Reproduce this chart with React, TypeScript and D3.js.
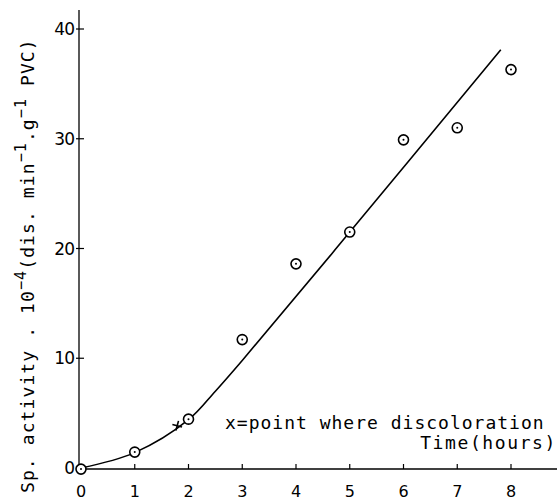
import React from "react";
import * as d3 from "d3";

const times = [0, 1, 2, 3, 4, 5, 6, 7, 8];
const activity = [-0.1, 1.45, 4.45, 11.7, 18.6, 21.5, 29.9, 31.0, 36.3];
const fitX = [0, 1, 2, 2.5, 3, 4.73, 7.81];
const fitY = [0, 1.4, 4.4, 7.0, 9.8, 19.9, 38.1];
const discolor = { t: 1.79, v: 3.85 };
const xTicks = [0, 1, 2, 3, 4, 5, 6, 7, 8];
const yTicks = [0, 10, 20, 30, 40];

const W = 559;
const H = 501;

export default function App() {
  const x = d3.scaleLinear().domain([0, 8]).range([81, 511]);
  const y = d3.scaleLinear().domain([0, 40]).range([468, 29]);
  const line = d3
    .line<number>()
    .x((_, i) => x(fitX[i]))
    .y((d) => y(d))
    .curve(d3.curveCatmullRom.alpha(0.5));
  const axisX = 79;
  const axisY = 469;
  const mono = "'DejaVu Sans Mono', monospace";
  const sans = "'DejaVu Sans', sans-serif";
  return (
    <svg
      width={W}
      height={H}
      style={{ position: "absolute", left: 0, top: 0, background: "#fff" }}
    >
      <rect width={W} height={H} fill="#fff" />
      {/* axes */}
      <line x1={axisX} y1={10} x2={axisX} y2={axisY} stroke="#000" strokeWidth={1.3} />
      <line x1={axisX} y1={axisY} x2={557} y2={axisY} stroke="#000" strokeWidth={1.3} />
      {yTicks.map((t) => (
        <g key={"y" + t}>
          <line x1={axisX - 3} x2={axisX + 5} y1={y(t)} y2={y(t)} stroke="#000" strokeWidth={1.2} />
          <text
            x={74}
            y={y(t)}
            dy="0.36em"
            textAnchor="end"
            fontFamily={sans}
            fontSize={17}
            letterSpacing={-1}
            fill="#000"
          >
            {t}
          </text>
        </g>
      ))}
      {xTicks.map((t) => (
        <g key={"x" + t}>
          {t > 0 && (
            <line x1={x(t)} x2={x(t)} y1={axisY} y2={axisY - 5} stroke="#000" strokeWidth={1.2} />
          )}
          <text
            x={x(t)}
            y={497}
            textAnchor="middle"
            fontFamily={sans}
            fontSize={16}
            fill="#000"
          >
            {t}
          </text>
        </g>
      ))}
      {/* fitted curve */}
      <path d={line(fitY) || ""} fill="none" stroke="#000" strokeWidth={1.6} />
      {/* data points */}
      {times.map((t, i) => (
        <g key={"p" + t}>
          <circle cx={x(t)} cy={y(activity[i])} r={5} fill="#fff" stroke="#000" strokeWidth={1.6} />
          <circle cx={x(t)} cy={y(activity[i])} r={1} fill="#000" />
        </g>
      ))}
      {/* discoloration marker */}
      <g transform={`translate(${x(discolor.t)},${y(discolor.v)}) rotate(15)`}>
        <line x1={-5} x2={5} y1={0} y2={0} stroke="#000" strokeWidth={1.6} />
        <line x1={0} x2={0} y1={-5} y2={5} stroke="#000" strokeWidth={1.6} />
      </g>
      {/* annotations */}
      <text x={225} y={429} fontFamily={mono} fontSize={18} letterSpacing={1} fill="#000">
        x=point where discoloration
      </text>
      <text x={557} y={449} textAnchor="end" fontFamily={mono} fontSize={18} letterSpacing={1.6} fill="#000">
        Time(hours)
      </text>
      {/* y label */}
      <text
        transform="translate(34,493) rotate(-90)"
        fontFamily={mono}
        fontSize={18}
        letterSpacing={1.1}
        fill="#000"
      >
        <tspan>Sp. activity . 10</tspan>
        <tspan dy={-8} fontSize={15}>−4</tspan>
        <tspan dy={8}>(dis. min</tspan>
        <tspan dy={-8} fontSize={15}>−1</tspan>
        <tspan dy={8}>.g</tspan>
        <tspan dy={-8} fontSize={15}>−1</tspan>
        <tspan dy={8}> PVC)</tspan>
      </text>
    </svg>
  );
}
